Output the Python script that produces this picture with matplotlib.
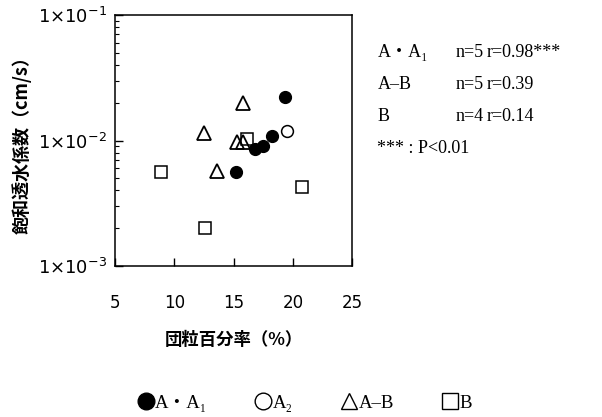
import matplotlib
matplotlib.use("Agg")
import matplotlib.pyplot as plt
from matplotlib.lines import Line2D
from matplotlib.ticker import FixedLocator, FixedFormatter, LogLocator, NullFormatter

# data
a_x = [15.2, 16.8, 17.5, 18.2, 19.3]
a_y = [5.6e-3, 8.6e-3, 9.0e-3, 1.09e-2, 2.22e-2]
a2_x = [19.5]
a2_y = [1.19e-2]
ab_x = [12.5, 15.8, 13.6, 15.3, 15.8]
ab_y = [1.15e-2, 2.0e-2, 5.7e-3, 9.8e-3, 9.8e-3]
b_x = [8.9, 12.6, 16.1, 20.8]
b_y = [5.6e-3, 2.0e-3, 1.02e-2, 4.26e-3]

xticks = [5, 10, 15, 20, 25]
yticks = [1e-3, 1e-2, 1e-1]
ytick_labels = ["1×10$^{-3}$", "1×10$^{-2}$", "1×10$^{-1}$"]

stats_rows = [("A・A₁", "n=5", "r=0.98***"),
              ("A–B", "n=5", "r=0.39"),
              ("B", "n=4", "r=0.14")]
footnote = "*** : P<0.01"

legend_labels = ["A・A₁", "A₂", "A–B", "B"]

plt.rcParams["mathtext.fontset"] = "dejavusans"
serif = ["Liberation Serif", "DejaVu Serif", "Noto Sans CJK JP"]
jp = ["Noto Sans CJK JP", "DejaVu Sans"]

fig = plt.figure(figsize=(6.02, 4.17), dpi=100)
ax = fig.add_axes([0.191, 0.362, 0.394, 0.602])

ms = 8.5
ax.plot(a_x, a_y, "o", color="black", ms=ms, ls="none")
ax.plot(a2_x, a2_y, "o", mfc="white", mec="black", mew=1.1, ms=ms, ls="none")
ax.plot(ab_x, ab_y, "^", mfc="none", mec="black", mew=1.3, ms=ms + 1, ls="none")
ax.plot(b_x, b_y, "s", mfc="none", mec="black", mew=1.1, ms=ms + 0.5, ls="none")

ax.set_yscale("log")
ax.set_xlim(5, 25)
ax.set_ylim(1e-3, 1e-1)
ax.xaxis.set_major_locator(FixedLocator(xticks))
ax.yaxis.set_major_locator(FixedLocator(yticks))
ax.yaxis.set_major_formatter(FixedFormatter(ytick_labels))
ax.yaxis.set_minor_locator(LogLocator(base=10, subs=range(2, 10)))
ax.yaxis.set_minor_formatter(NullFormatter())
ax.tick_params(direction="in", length=6, width=1, labelsize=13, pad=6)
ax.tick_params(axis="y", which="minor", direction="in", length=3, width=0.8)
ax.tick_params(axis="x", pad=20, labelsize=12)
for s in ax.spines.values():
    s.set_linewidth(1.1)

ax.set_xlabel("団粒百分率（%）", family=jp, fontsize=12.5, fontweight="bold", labelpad=14)
ax.set_ylabel("飽和透水係数（cm/s）", family=jp, fontsize=13, fontweight="bold", labelpad=4)

row_y = [0.875, 0.797, 0.72]
for (g, n, r), yy in zip(stats_rows, row_y):
    fig.text(0.627, yy, g, family=serif, fontsize=13, va="center")
    fig.text(0.756, yy, n, family=serif, fontsize=13, va="center")
    fig.text(0.809, yy, r, family=serif, fontsize=13, va="center")
fig.text(0.627, 0.645, footnote, family=serif, fontsize=13, va="center")

handles = [
    Line2D([], [], marker="o", color="black", ls="none", ms=12),
    Line2D([], [], marker="o", mfc="white", mec="black", ls="none", ms=12, mew=1.0),
    Line2D([], [], marker="^", mfc="none", mec="black", ls="none", ms=12, mew=1.0),
    Line2D([], [], marker="s", mfc="none", mec="black", ls="none", ms=11, mew=1.0),
]
leg = fig.legend(handles, legend_labels, loc="center", bbox_to_anchor=(0.505, 0.033),
                 ncol=4, frameon=False, handletextpad=0.0, columnspacing=2.5,
                 handlelength=1.0, prop={"family": serif, "size": 13.5})

fig.savefig("out.png", dpi=100)
